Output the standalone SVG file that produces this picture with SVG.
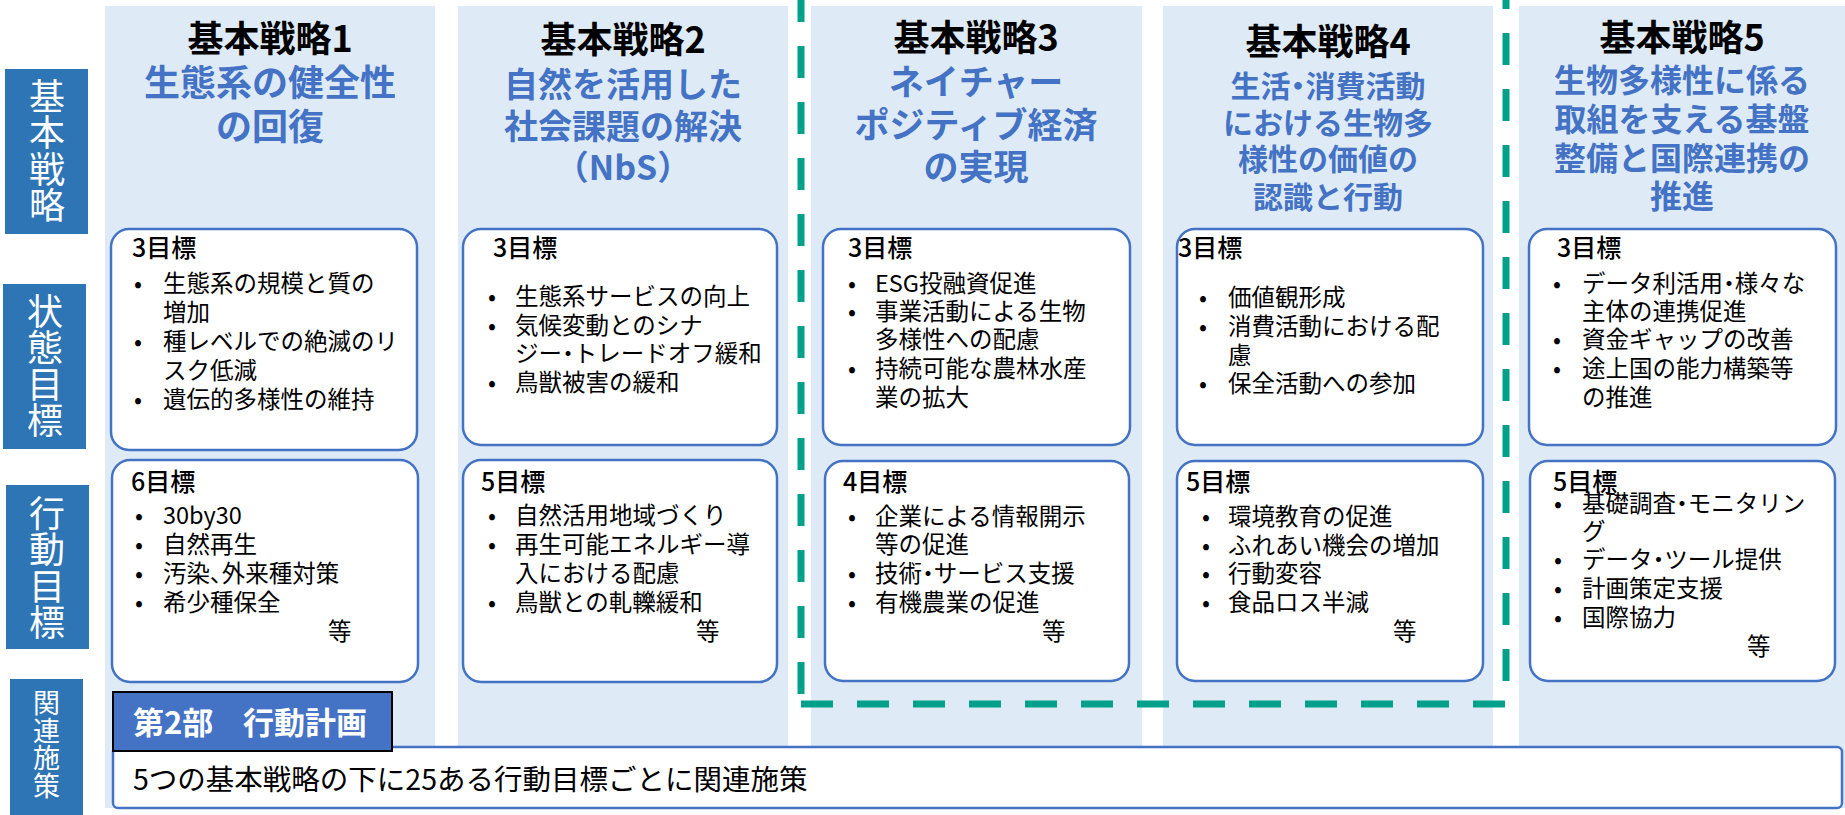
<svg xmlns="http://www.w3.org/2000/svg" width="1845" height="815" viewBox="0 0 1845 815">
<style>
text{font-family:"Noto Sans CJK JP","Noto Sans",sans-serif;}
.colbg{fill:#DEEBF7}
.box{fill:#fff;stroke:#4472C4;stroke-width:2.5}
.lbl{fill:#2E75B6}
.lt{fill:#fff;font-size:36px;writing-mode:vertical-rl;letter-spacing:0.5px}
.lt2{fill:#fff;font-size:27px;writing-mode:vertical-rl;letter-spacing:0.5px}
.title{font-weight:bold;font-size:36px;text-anchor:middle;fill:#000}
.sub{fill:#4472C4;font-weight:bold;text-anchor:middle}
.hd{font-size:25px;fill:#000;font-weight:500}
.b{font-size:23.5px;fill:#000}
.dot{font-size:23.5px;fill:#000;text-anchor:middle}
.hw{font-feature-settings:"palt"}
.frame{fill:none;stroke:#00A08A;stroke-width:7;stroke-dasharray:32 24}
</style>

<g id="row-labels">
  <g id="label-kihon-senryaku">
    <rect class="lbl" x="5" y="69" width="83" height="165"/>
    <text class="lt" x="47" y="78">基本戦略</text>
  </g>
  <g id="label-joutai-mokuhyou">
    <rect class="lbl" x="3" y="284" width="83" height="165"/>
    <text class="lt" x="45" y="293">状態目標</text>
  </g>
  <g id="label-koudou-mokuhyou">
    <rect class="lbl" x="6" y="485" width="83" height="164"/>
    <text class="lt" x="47" y="495">行動目標</text>
  </g>
  <g id="label-kanren-shisaku">
    <rect class="lbl" x="10" y="679" width="73" height="136"/>
    <text class="lt2" x="46.5" y="689.5">関連施策</text>
  </g>
</g>

<g id="column-backgrounds">
  <rect class="colbg" x="105" y="6" width="330" height="802"/>
  <rect class="colbg" x="458" y="6" width="330" height="802"/>
  <rect class="colbg" x="811" y="6" width="331" height="802"/>
  <rect class="colbg" x="1163" y="6" width="330" height="802"/>
  <rect class="colbg" x="1519" y="6" width="326" height="802"/>
</g>

<g id="highlight-frame">
  <path class="frame" d="M801 0 V704" stroke-dashoffset="10"/>
  <path class="frame" d="M801 704 H1506"/>
  <path class="frame" d="M1506 0 V704" stroke-dashoffset="23"/>
</g>

<g id="strategy1">
  <text class="title" x="270" y="52">基本戦略1</text>
  <text class="sub" font-size="36"><tspan x="270" y="96">生態系の健全性</tspan><tspan x="270" y="140">の回復</tspan></text>
</g>
<g id="strategy2">
  <text class="title" x="623" y="53">基本戦略2</text>
  <text class="sub" font-size="34"><tspan x="623" y="97">自然を活用した</tspan><tspan x="623" y="139">社会課題の解決</tspan><tspan x="623" y="180">（NbS）</tspan></text>
</g>
<g id="strategy3">
  <text class="title" x="976" y="51">基本戦略3</text>
  <text class="sub" font-size="35"><tspan x="976" y="95">ネイチャー</tspan><tspan x="976" y="138">ポジティブ経済</tspan><tspan x="976" y="180">の実現</tspan></text>
</g>
<g id="strategy4">
  <text class="title" x="1328" y="55">基本戦略4</text>
  <text class="sub" font-size="30"><tspan x="1328" y="97">生活<tspan class="hw">・</tspan>消費活動</tspan><tspan x="1328" y="134">における生物多</tspan><tspan x="1328" y="170">様性の価値の</tspan><tspan x="1328" y="208">認識と行動</tspan></text>
</g>
<g id="strategy5">
  <text class="title" x="1682" y="51">基本戦略5</text>
  <text class="sub" font-size="32"><tspan x="1682" y="92">生物多様性に係る</tspan><tspan x="1682" y="131">取組を支える基盤</tspan><tspan x="1682" y="170">整備と国際連携の</tspan><tspan x="1682" y="208">推進</tspan></text>
</g>

<g id="state-goals-1">
  <rect class="box" x="111" y="229" width="306" height="221" rx="18"/>
  <text class="hd" x="132" y="257">3目標</text>
  <text class="dot" x="138" y="292">•</text><text class="b" x="163" y="292">生態系の規模と質の</text>
  <text class="b" x="163" y="321">増加</text>
  <text class="dot" x="138" y="350">•</text><text class="b" x="163" y="350">種レベルでの絶滅のリ</text>
  <text class="b" x="163" y="379">スク低減</text>
  <text class="dot" x="138" y="408">•</text><text class="b" x="163" y="408">遺伝的多様性の維持</text>
</g>
<g id="action-goals-1">
  <rect class="box" x="112" y="460" width="306" height="222" rx="18"/>
  <text class="hd" x="131" y="491">6目標</text>
  <text class="dot" x="139" y="524">•</text><text class="b" x="163" y="524">30by30</text>
  <text class="dot" x="139" y="553">•</text><text class="b" x="163" y="553">自然再生</text>
  <text class="dot" x="139" y="582">•</text><text class="b" x="163" y="582">汚染<tspan class="hw">、</tspan>外来種対策</text>
  <text class="dot" x="139" y="611">•</text><text class="b" x="163" y="611">希少種保全</text>
  <text class="b" x="328" y="640">等</text>
</g>

<g id="state-goals-2">
  <rect class="box" x="463" y="229" width="314" height="216" rx="18"/>
  <text class="hd" x="493" y="257">3目標</text>
  <text class="dot" x="492" y="305">•</text><text class="b" x="515" y="305">生態系サービスの向上</text>
  <text class="dot" x="492" y="334">•</text><text class="b" x="515" y="334">気候変動とのシナ</text>
  <text class="b" x="515" y="362">ジー<tspan class="hw">・</tspan>トレードオフ緩和</text>
  <text class="dot" x="492" y="391">•</text><text class="b" x="515" y="391">鳥獣被害の緩和</text>
</g>
<g id="action-goals-2">
  <rect class="box" x="463" y="460" width="314" height="222" rx="18"/>
  <text class="hd" x="481" y="491">5目標</text>
  <text class="dot" x="492" y="524">•</text><text class="b" x="515" y="524">自然活用地域づくり</text>
  <text class="dot" x="492" y="553">•</text><text class="b" x="515" y="553">再生可能エネルギー導</text>
  <text class="b" x="515" y="582">入における配慮</text>
  <text class="dot" x="492" y="611">•</text><text class="b" x="515" y="611">鳥獣との軋轢緩和</text>
  <text class="b" x="696" y="640">等</text>
</g>

<g id="state-goals-3">
  <rect class="box" x="823" y="229" width="307" height="216" rx="18"/>
  <text class="hd" x="848" y="257">3目標</text>
  <text class="dot" x="852" y="292">•</text><text class="b" x="875" y="292">ESG投融資促進</text>
  <text class="dot" x="852" y="320">•</text><text class="b" x="875" y="320">事業活動による生物</text>
  <text class="b" x="875" y="348">多様性への配慮</text>
  <text class="dot" x="852" y="377">•</text><text class="b" x="875" y="377">持続可能な農林水産</text>
  <text class="b" x="875" y="406">業の拡大</text>
</g>
<g id="action-goals-3">
  <rect class="box" x="825" y="461" width="304" height="220" rx="18"/>
  <text class="hd" x="843" y="491">4目標</text>
  <text class="dot" x="852" y="525">•</text><text class="b" x="875" y="525">企業による情報開示</text>
  <text class="b" x="875" y="553">等の促進</text>
  <text class="dot" x="852" y="582">•</text><text class="b" x="875" y="582">技術<tspan class="hw">・</tspan>サービス支援</text>
  <text class="dot" x="852" y="611">•</text><text class="b" x="875" y="611">有機農業の促進</text>
  <text class="b" x="1042" y="640">等</text>
</g>

<g id="state-goals-4">
  <rect class="box" x="1177" y="229" width="306" height="216" rx="18"/>
  <text class="hd" x="1178" y="257">3目標</text>
  <text class="dot" x="1203" y="306">•</text><text class="b" x="1228" y="306">価値観形成</text>
  <text class="dot" x="1203" y="335">•</text><text class="b" x="1228" y="335">消費活動における配</text>
  <text class="b" x="1228" y="364">慮</text>
  <text class="dot" x="1203" y="392">•</text><text class="b" x="1228" y="392">保全活動への参加</text>
</g>
<g id="action-goals-4">
  <rect class="box" x="1177" y="461" width="306" height="220" rx="18"/>
  <text class="hd" x="1186" y="491">5目標</text>
  <text class="dot" x="1206" y="525">•</text><text class="b" x="1228" y="525">環境教育の促進</text>
  <text class="dot" x="1206" y="554">•</text><text class="b" x="1228" y="554">ふれあい機会の増加</text>
  <text class="dot" x="1206" y="582">•</text><text class="b" x="1228" y="582">行動変容</text>
  <text class="dot" x="1206" y="611">•</text><text class="b" x="1228" y="611">食品ロス半減</text>
  <text class="b" x="1393" y="640">等</text>
</g>

<g id="state-goals-5">
  <rect class="box" x="1529" y="229" width="307" height="216" rx="18"/>
  <text class="hd" x="1557" y="257">3目標</text>
  <text class="dot" x="1557" y="292">•</text><text class="b" x="1582" y="292">データ利活用<tspan class="hw">・</tspan>様々な</text>
  <text class="b" x="1582" y="320">主体の連携促進</text>
  <text class="dot" x="1557" y="348">•</text><text class="b" x="1582" y="348">資金ギャップの改善</text>
  <text class="dot" x="1557" y="377">•</text><text class="b" x="1582" y="377">途上国の能力構築等</text>
  <text class="b" x="1582" y="406">の推進</text>
</g>
<g id="action-goals-5">
  <rect class="box" x="1530" y="461" width="305" height="220" rx="18"/>
  <text class="dot" x="1558" y="512">•</text><text class="b" x="1582" y="512">基礎調査<tspan class="hw">・</tspan>モニタリン</text>
  <text class="hd" x="1553" y="491">5目標</text>
  <text class="b" x="1582" y="540">グ</text>
  <text class="dot" x="1558" y="568">•</text><text class="b" x="1582" y="568">データ<tspan class="hw">・</tspan>ツール提供</text>
  <text class="dot" x="1558" y="597">•</text><text class="b" x="1582" y="597">計画策定支援</text>
  <text class="dot" x="1558" y="626">•</text><text class="b" x="1582" y="626">国際協力</text>
  <text class="b" x="1747" y="655">等</text>
</g>

<g id="related-measures">
  <rect x="113" y="747" width="1729" height="61" rx="5" fill="#fff" stroke="#4472C4" stroke-width="2.5"/>
  <text x="133" y="790" font-size="28.5" fill="#000">5つの基本戦略の下に25ある行動目標ごとに関連施策</text>
</g>
<g id="part2-action-plan">
  <rect x="113" y="692" width="279" height="59" fill="#4472C4" stroke="#000" stroke-width="2"/>
  <text y="734" font-size="31" fill="#fff" font-weight="bold"><tspan x="133">第2部</tspan><tspan x="243">行動計画</tspan></text>
</g>
</svg>
